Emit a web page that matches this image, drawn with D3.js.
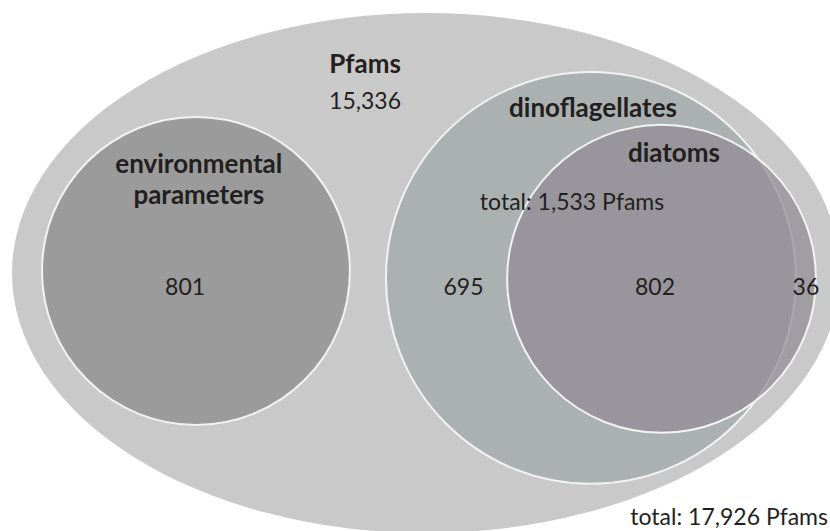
<!DOCTYPE html>
<html>
<head>
<meta charset="utf-8">
<script src="https://cdn.jsdelivr.net/npm/d3@7"></script>
<style>
  body { margin: 0; background: #fff; }
  svg text { font-family: Lato, "Open Sans", sans-serif; fill: #231f20; }
  .setname { font-weight: bold; font-size: 26px; }
  .count { font-size: 23px; }
</style>
</head>
<body>
<div id="venn"></div>
<script>
// sets, back to front
var setNames = ["Pfams", "environmental parameters", "dinoflagellates", "diatoms"];
var setFills = ["#c9c9c9", "#9b9b9b", "#aab1b0", "#928e95"];
// region counts
var regionNames = ["Pfams only", "environmental parameters", "dinoflagellates only", "dinoflagellates & diatoms", "diatoms only"];
var regionCounts = [15336, 801, 695, 802, 36];
var totals = [17926, 1533];

var svgWidth = 830;
var svgHeight = 531;

var svg = d3.select("#venn")
  .append("svg")
  .attr("width", svgWidth)
  .attr("height", svgHeight);

// layout in diagram units (0-100 wide), mapped to pixels
var x = d3.scaleLinear().domain([0, 100]).range([0, 830]);
var y = d3.scaleLinear().domain([0, 64]).range([0, 531]);
var r = d3.scaleLinear().domain([0, 100]).range([0, 830]);

// ellipse geometry per set (cx, cy, rx, ry)
var geom = [
  [51.33, 32.9, 49.88, 31.33],
  [23.61, 32.65, 18.55, 18.56],
  [71.2, 33.5, 24.7, 24.82],
  [79.7, 33.6, 18.6, 18.56]
];

var fmt = d3.format(",");

svg.selectAll("ellipse")
  .data(setNames)
  .enter()
  .append("ellipse")
  .attr("cx", (d, i) => x(geom[i][0]))
  .attr("cy", (d, i) => y(geom[i][1]))
  .attr("rx", (d, i) => r(geom[i][2]))
  .attr("ry", (d, i) => y(geom[i][3]))
  .attr("fill", (d, i) => setFills[i])
  .attr("fill-opacity", (d, i) => i == 3 ? 0.75 : 1)
  .attr("stroke", (d, i) => i == 0 ? "none" : "#f2f2f2")
  .attr("stroke-width", 2);

// set name labels [x, y] in diagram units
var nameLines = [["Pfams"], ["environmental", "parameters"], ["dinoflagellates"], ["diatoms"]];
var namePos = [[43.98, 8.8], [23.95, 20.85], [71.45, 14.1], [81.2, 19.52]];

nameLines.forEach(function(lines, i) {
  lines.forEach(function(line, j) {
    svg.append("text")
      .attr("class", "setname")
      .attr("x", x(namePos[i][0]))
      .attr("y", y(namePos[i][1]) + j * 31)
      .attr("text-anchor", "middle")
      .text(line);
  });
});

// region counts
var countPos = [[43.98, 13.13], [22.3, 35.54], [55.85, 35.54], [78.92, 35.54], [97.1, 35.54]];

svg.selectAll("text.count")
  .data(regionCounts)
  .enter()
  .append("text")
  .attr("class", "count")
  .attr("x", (d, i) => x(countPos[i][0]))
  .attr("y", (d, i) => y(countPos[i][1]))
  .attr("text-anchor", "middle")
  .text(d => fmt(d));

// totals
svg.append("text")
  .attr("class", "count")
  .attr("x", x(99.76))
  .attr("y", y(63.25))
  .attr("text-anchor", "end")
  .text("total: " + fmt(totals[0]) + " Pfams");

svg.append("text")
  .attr("class", "count")
  .attr("x", x(68.92))
  .attr("y", y(25.3))
  .attr("text-anchor", "middle")
  .text("total: " + fmt(totals[1]) + " Pfams");
</script>
</body>
</html>
